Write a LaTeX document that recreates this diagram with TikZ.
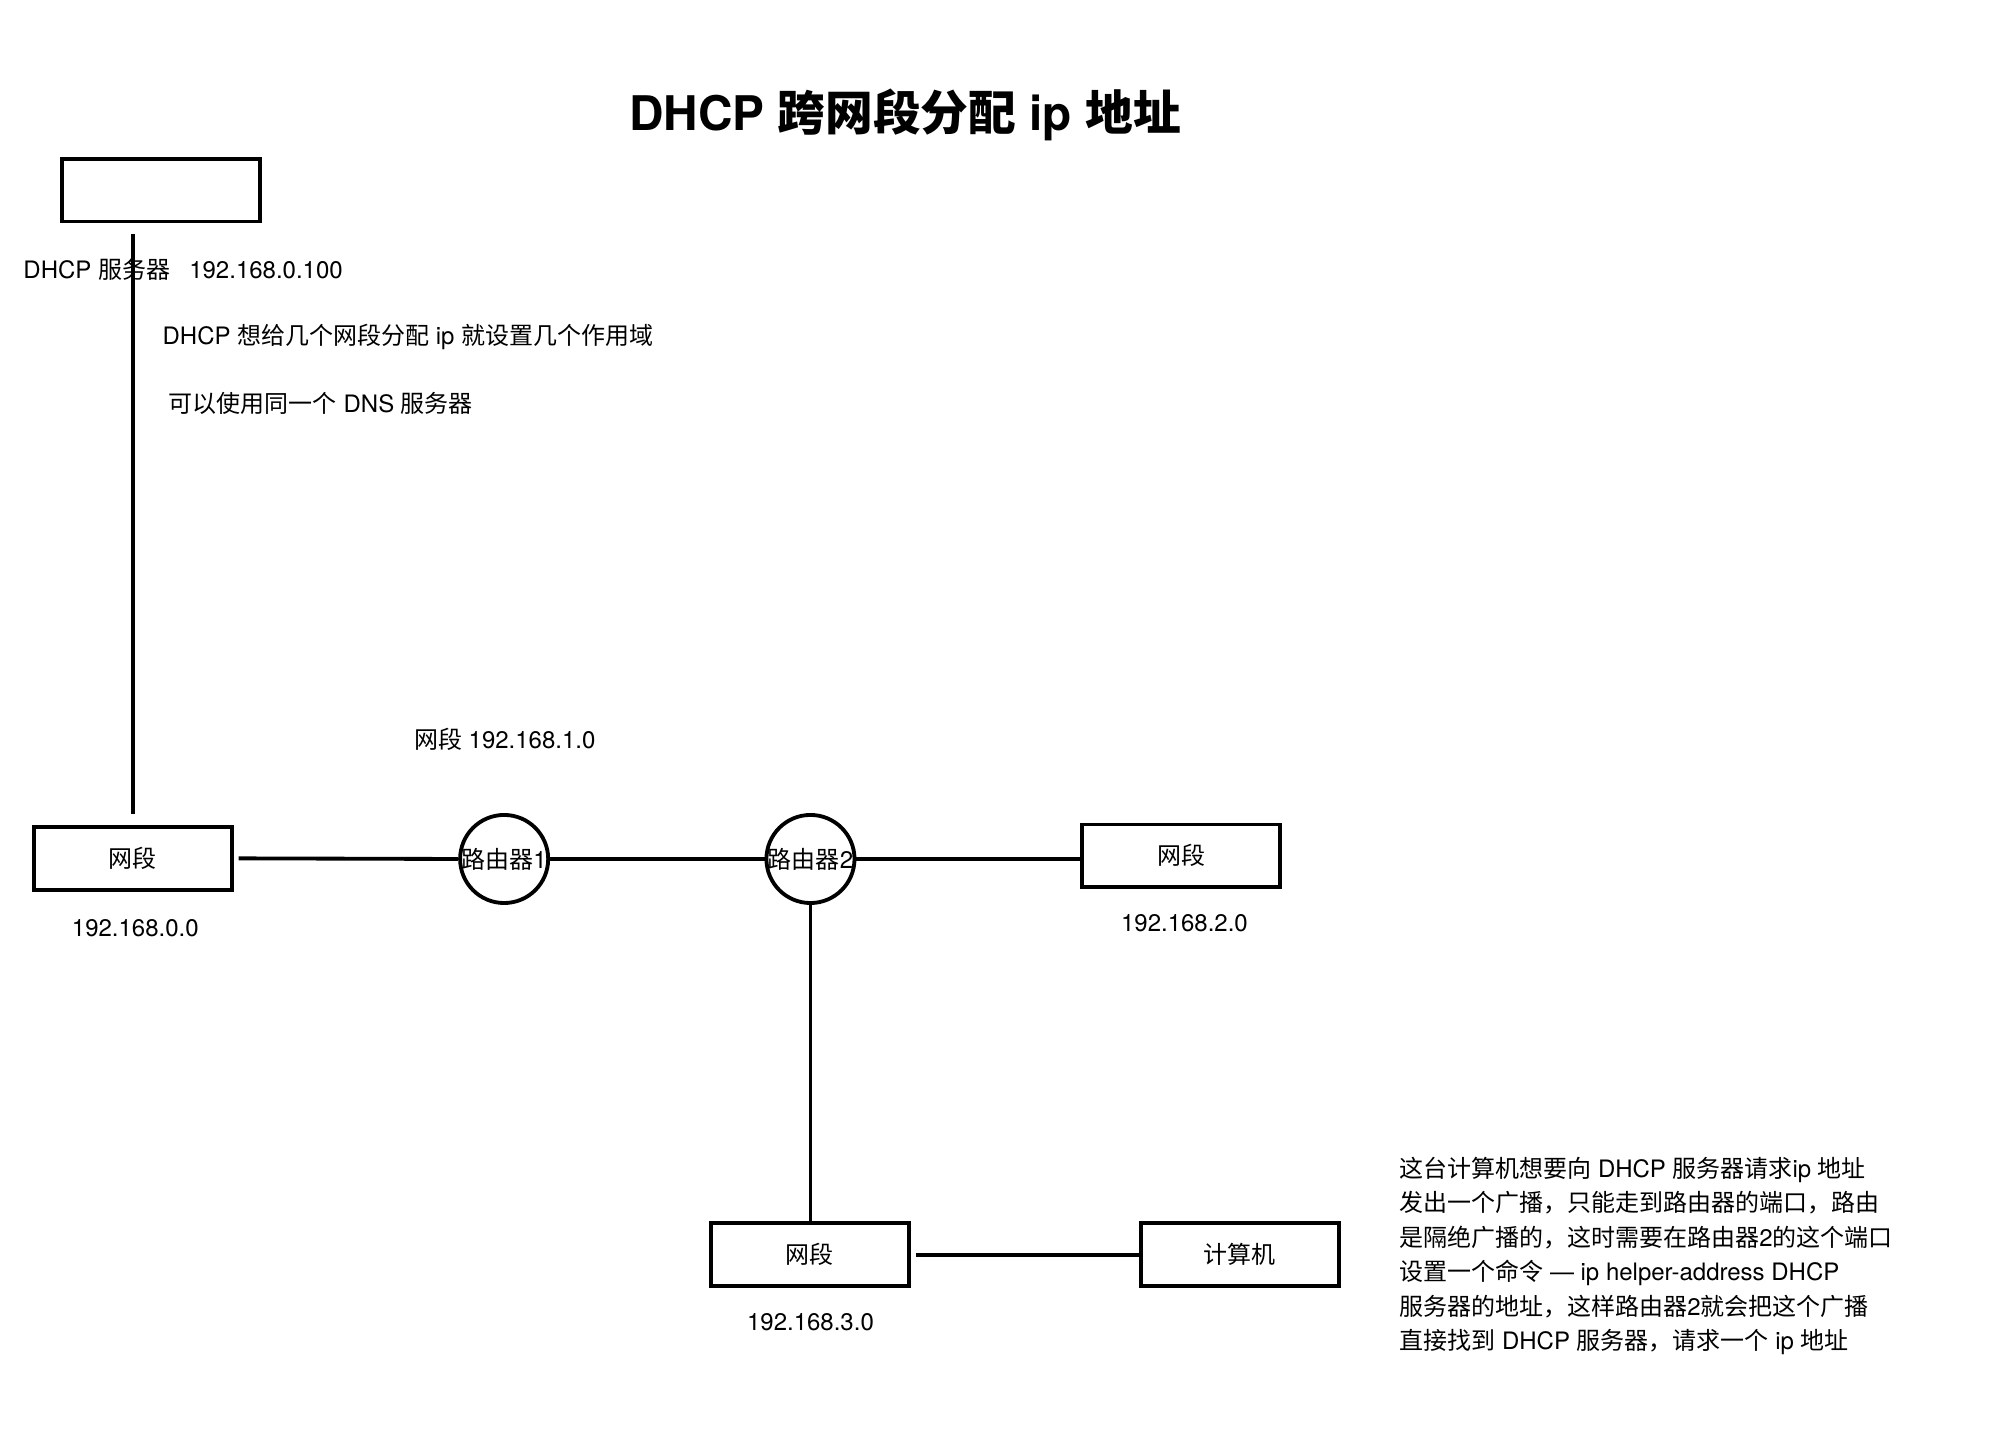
\documentclass[tikz,border=0pt]{standalone}
\usepackage{fontspec}
\setmainfont{TeX Gyre Heros}
\newfontfamily\cjk{Noto Sans CJK SC}
\newcommand\zh[1]{{\cjk #1}}
\begin{document}
\begin{tikzpicture}[x=0.5pt,y=-0.5pt,
  every node/.style={inner sep=0pt},
  txt/.style={font=\fontsize{9.4}{11}\selectfont},
  segbox/.style={draw, line width=1.5pt, minimum width=77.5pt, minimum height=24.5pt, font=\fontsize{9.4}{11}\selectfont},
  router/.style={draw, circle, line width=1.5pt, minimum size=31.5pt, font=\fontsize{9.4}{11}\selectfont},
  link/.style={line width=1.5pt}]
\useasboundingbox (0,0) rectangle (1567,1131);
% title
\node[font=\bfseries\fontsize{18.7}{22}\selectfont] (title) at (709,90) {DHCP \zh{跨网段分配} ip \zh{地址}};
% nodes
\node[segbox] (server) at (126,149) {};
\node[segbox] (seg0) at (104,672.5) {\zh{网段}};
\node[router] (r1) at (395,673) {\zh{路由器}1};
\node[router] (r2) at (635,673) {\zh{路由器}2};
\node[segbox] (seg2) at (925.5,670.5) {\zh{网段}};
\node[segbox] (seg3) at (634.5,983) {\zh{网段}};
\node[segbox] (pc) at (971.5,983) {\zh{计算机}};
% connectors
\draw[link, shorten <=4pt, shorten >=4.5pt] (server.south -| seg0.north) -- (seg0.north);
\draw[link, shorten <=2pt] (seg0.east) -- (r1.west);
\draw[link] (r1.east) -- (r2.west);
\draw[link] (r2.east) -- (r2.east -| seg2.west);
\draw[link] (r2.south) -- (r2.south |- seg3.north);
\draw[link, shorten <=2pt] (seg3.east) -- (pc.west);
% labels
\node[txt, anchor=west] (lblserver) at (18,211) {DHCP \zh{服务器}\hspace{0.8em}192.168.0.100};
\node[txt, anchor=west] (note1) at (127,264) {DHCP \zh{想给几个网段分配} ip \zh{就设置几个作用域}};
\node[txt, anchor=west] (note2) at (132,316) {\zh{可以使用同一个} DNS \zh{服务器}};
\node[txt, anchor=west] (lbl1) at (324,579) {\zh{网段} 192.168.1.0};
\node[txt] (lbl0) at (106,727) {192.168.0.0};
\node[txt] (lbl2) at (928,723) {192.168.2.0};
\node[txt] (lbl3) at (635,1036) {192.168.3.0};
\node[anchor=north west, align=left, font=\fontsize{9.4}{13.5}\selectfont] (para) at (1096,906) {%
\zh{这台计算机想要向} DHCP \zh{服务器请求}ip \zh{地址}\\
\zh{发出一个广播，只能走到路由器的端口，路由}\\
\zh{是隔绝广播的，这时需要在路由器}2\zh{的这个端口}\\
\zh{设置一个命令} — ip helper-address DHCP\\
\zh{服务器的地址，这样路由器}2\zh{就会把这个广播}\\
\zh{直接找到} DHCP \zh{服务器，请求一个} ip \zh{地址}};
\end{tikzpicture}
\end{document}
